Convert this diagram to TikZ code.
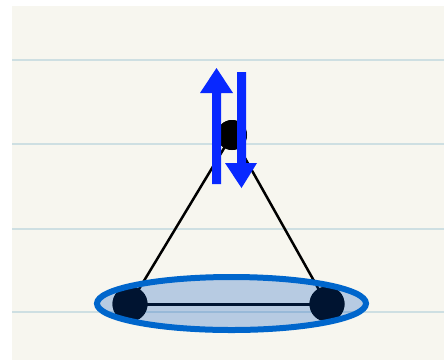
\documentclass[tikz,border=0pt]{standalone}
\usetikzlibrary{shapes.geometric}
\definecolor{paper}{RGB}{247,246,239}
\definecolor{rule}{RGB}{206,223,226}
\definecolor{ellline}{RGB}{0,102,204}
\definecolor{ellfill}{RGB}{0,80,190}
\definecolor{arrowblue}{RGB}{8,40,255}
\tikzset{
  dot/.style={circle,fill=black,inner sep=0pt,minimum size=#1},
  bond/.style={line width=2.5pt,black},
  ruling/.style={line width=1.6pt,rule},
  spinarrow/.style={fill=arrowblue},
}
\begin{document}
\begin{tikzpicture}[x=1pt,y=-1pt]
\useasboundingbox (0,0) rectangle (444,360);
\fill[white] (0,0) rectangle (444,360);
\fill[paper] (12,6) rectangle (444,360);
\foreach \yy in {60,144,229,312} \draw[ruling] (12,\yy) -- (444,\yy);
% nodes
\node[dot=30pt] (top) at (232,135) {};
\node[dot=35pt] (bl) at (130,304) {};
\node[dot=35pt] (br) at (327,304) {};
\draw[bond] (top.center) -- (bl.center);
\draw[bond] (top.center) -- (br.center);
\draw[bond,line width=3pt] (bl.center) -- (br.center);
\node[dot=35pt] at (bl) {};
\node[dot=35pt] at (br) {};
% ellipse
\node[ellipse,draw=ellline,line width=6pt,fill=ellfill,fill opacity=0.26,draw opacity=1,
      minimum width=269pt,minimum height=53pt,inner sep=0pt] (orb) at (231.5,303.5) {};
\node[dot=30pt] at (top) {};
% spin arrows
\fill[spinarrow] (212,184) -- (212,93) -- (200,93) -- (216.5,68) -- (233,93) -- (221,93) -- (221,184) -- cycle;
\fill[spinarrow] (237,72) -- (246,72) -- (246,163) -- (257,163) -- (241.5,188) -- (225,163) -- (237,163) -- cycle;
\end{tikzpicture}
\end{document}
